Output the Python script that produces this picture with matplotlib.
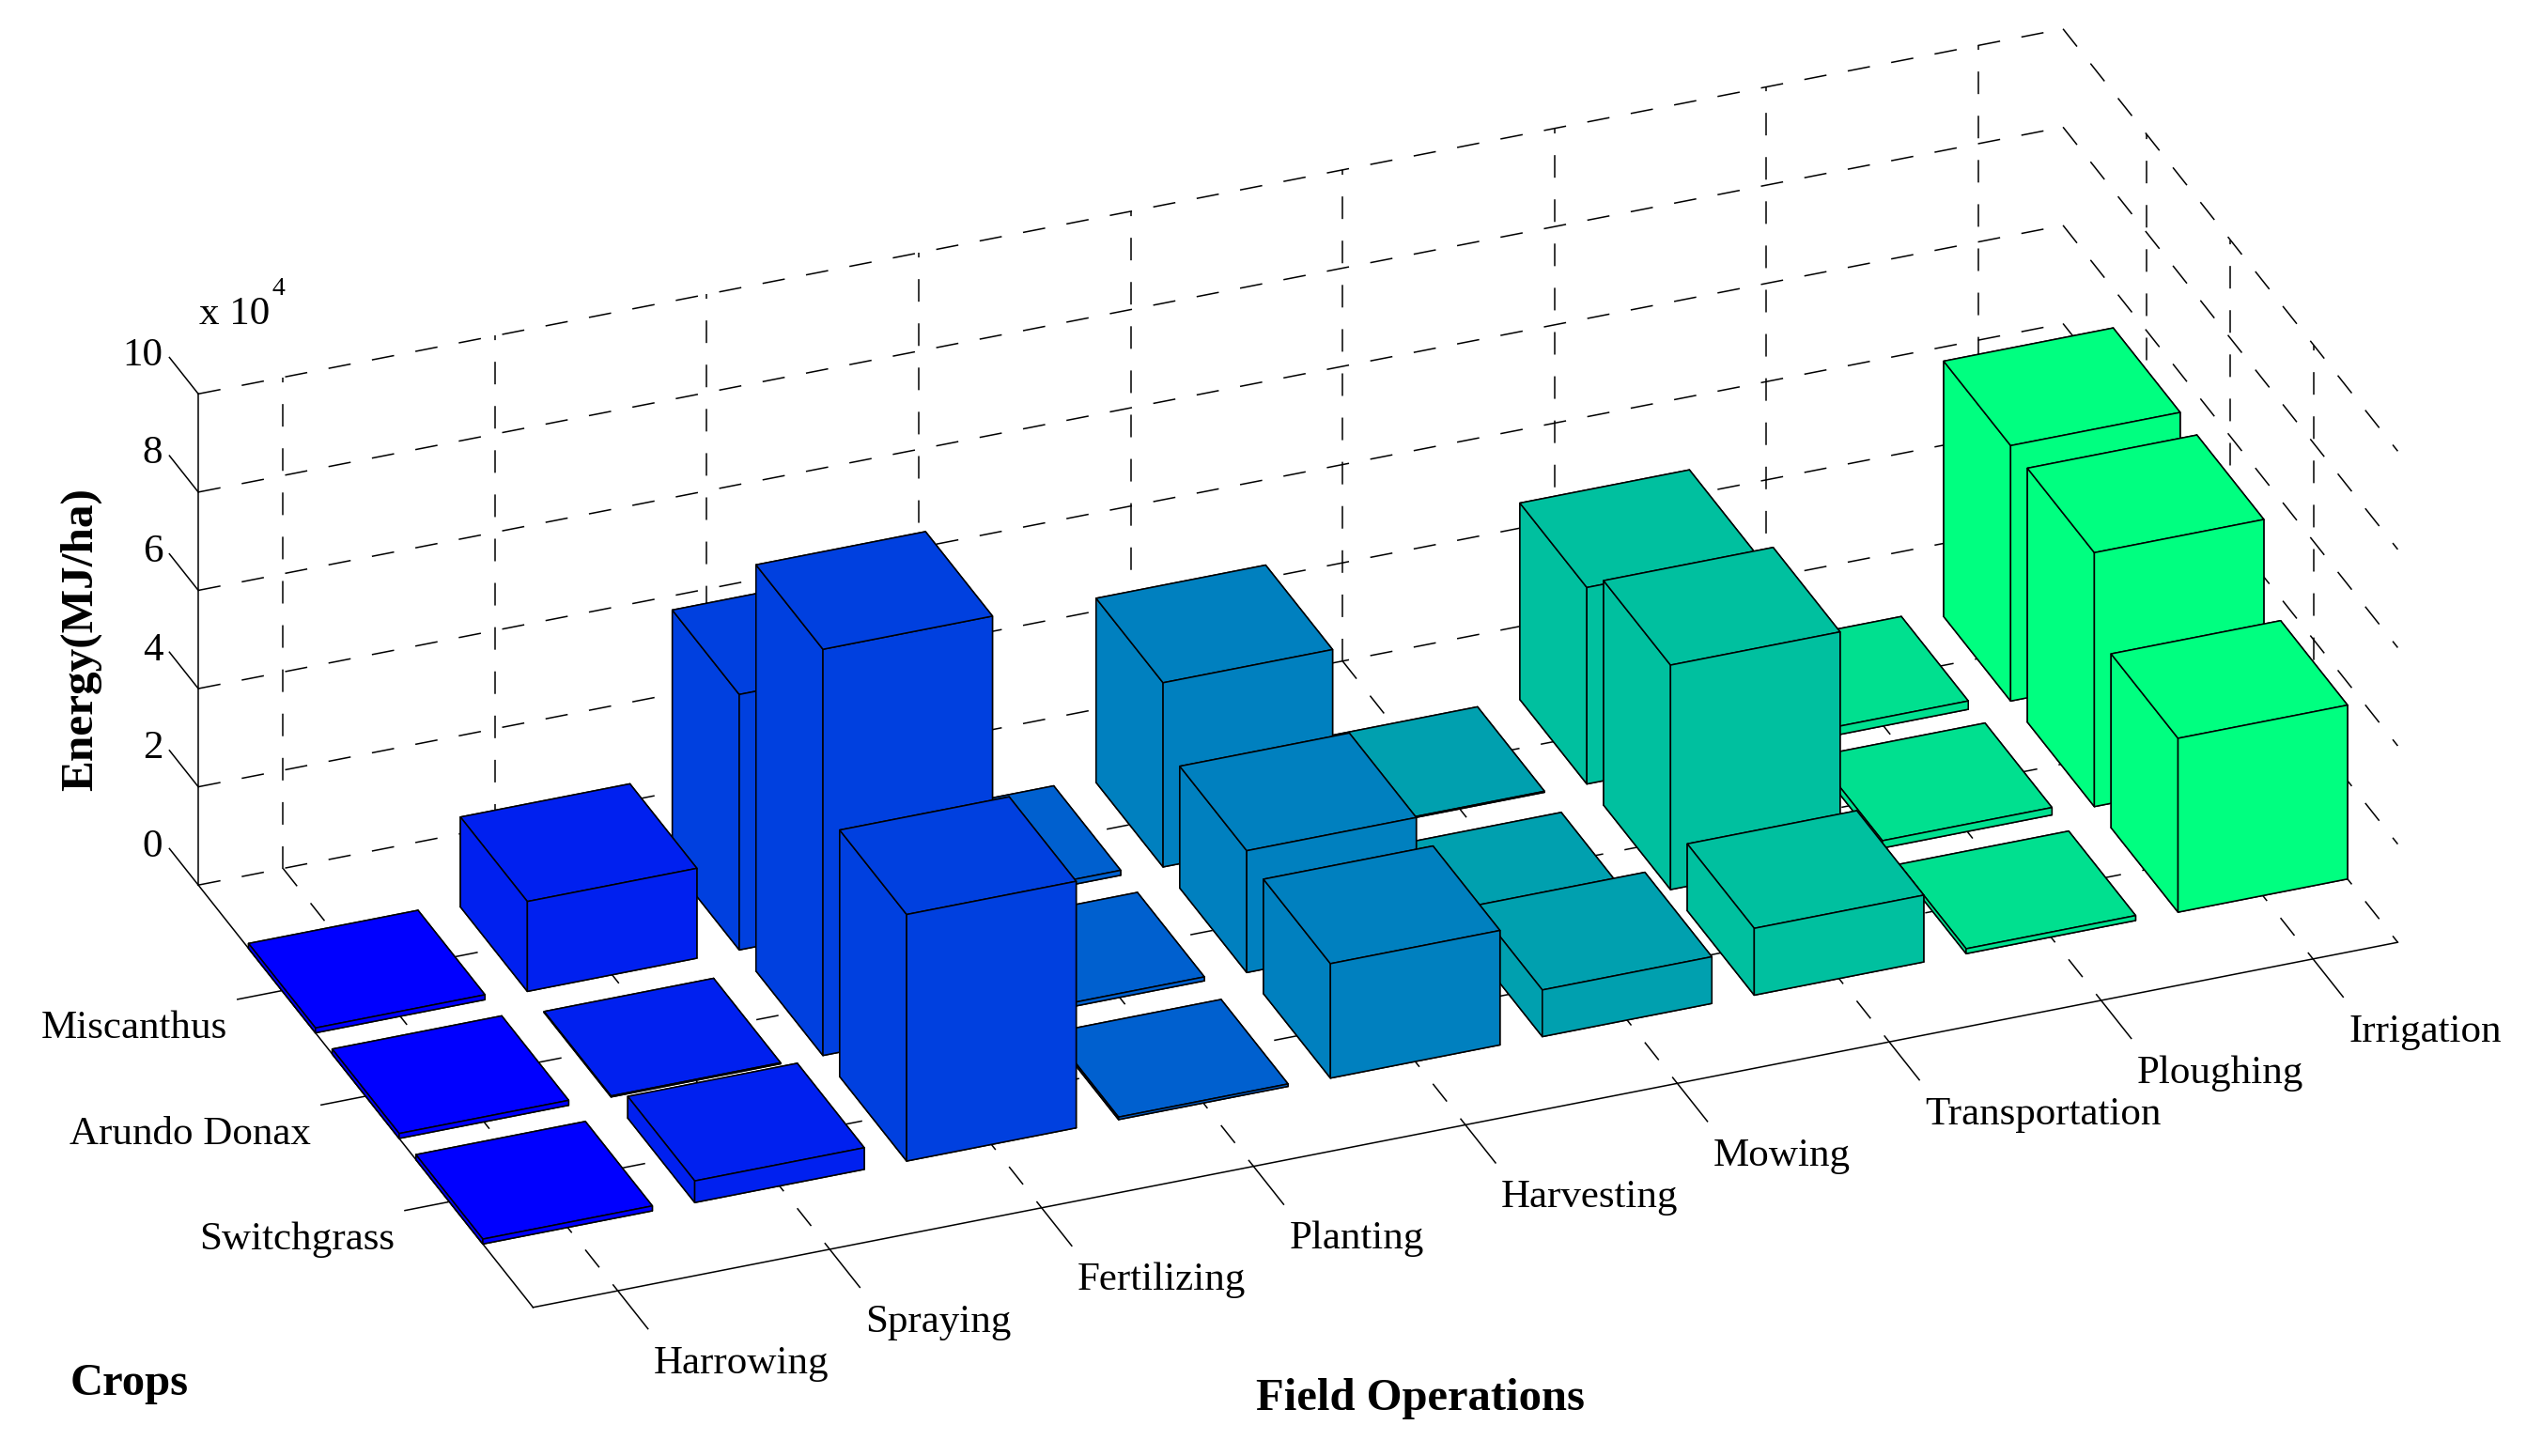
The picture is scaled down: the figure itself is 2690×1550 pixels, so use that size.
import matplotlib
matplotlib.use("Agg")
import matplotlib.pyplot as plt
import numpy as np
from mpl_toolkits.mplot3d import proj3d

plt.rcParams['font.family'] = ['Liberation Serif', 'DejaVu Serif']
plt.rcParams['lines.scale_dashes'] = False

operations = ["Harrowing", "Spraying", "Fertilizing", "Planting", "Harvesting",
              "Mowing", "Transportation", "Ploughing", "Irrigation"]
crops = ["Miscanthus", "Arundo Donax", "Switchgrass"]
z_ticks = [0, 2, 4, 6, 8, 10]

# energy per field operation, MJ/ha
miscanthus = [1000, 18300, 52000, 1000, 37500, 200, 40000, 1700, 52000]
arundo = [1000, 200, 82700, 800, 24800, 200, 45700, 1500, 51700]
switchgrass = [1000, 4400, 50200, 500, 23300, 9500, 13600, 1000, 35400]

W, H = 2690, 1550
X0, X1 = 0.6, 9.4
Y0, Y1 = 0, 4
Z1 = 10

fig = plt.figure(figsize=(W / 100, H / 100), dpi=100)
ax = fig.add_axes([175 / W, -368 / H, 2350 / W, 2350 / H], projection='3d',
                  proj_type='ortho', computed_zorder=False)
ax.view_init(elev=29.8, azim=-111.5)
ax.set_box_aspect((2135, 973, 603))
ax.set_axis_off()

dash = dict(color='black', lw=1.1, dashes=(17.3, 16.6), zorder=1, clip_on=False)
solid = dict(color='black', lw=1.1, zorder=1, clip_on=False)

# grid on the two back walls and the floor
for z in z_ticks:
    ax.plot([X0, X1], [Y0, Y0], [z * 1e4, z * 1e4], **dash)
    ax.plot([X1, X1], [Y0, Y1], [z * 1e4, z * 1e4], **dash)
for i in range(1, len(operations) + 1):
    ax.plot([i, i], [Y0, Y0], [0, Z1 * 1e4], **dash)
    ax.plot([i, i], [Y0, Y1], [0, 0], **dash)
for j in range(1, len(crops) + 1):
    ax.plot([X1, X1], [j, j], [0, Z1 * 1e4], **dash)
    ax.plot([X0, X1], [j, j], [0, 0], **dash)

# box edges
ax.plot([X0, X0], [Y0, Y0], [0, Z1 * 1e4], **solid)
ax.plot([X0, X0], [Y0, Y1], [0, 0], **solid)
ax.plot([X0, X1], [Y1, Y1], [0, 0], **solid)

# bars, painted from the far corner to the near one
heights = [miscanthus, arundo, switchgrass]
order = 2
for i in range(len(operations), 0, -1):
    colour = plt.cm.winter((i - 1) / (len(operations) - 1))
    for j in range(1, len(crops) + 1):
        bar = ax.bar3d(i - 0.4, j - 0.4, 0, 0.8, 0.8, heights[j - 1][i - 1], color=colour,
                       edgecolor='black', linewidth=1.1, shade=False)
        bar.set_zorder(order)
        order += 1

ax.set_xlim(X0, X1)
ax.set_ylim(Y1, Y0)
ax.set_zlim(0, Z1 * 1e4)
ax.set_xticks([])
ax.set_yticks([])
ax.set_zticks([])


def tick_label(x, y, z, name, ha):
    # plain 2D text at the projected spot, so it reports its real position
    px, py, _ = proj3d.proj_transform(x, y, z, ax.get_proj())
    ax.text2D(px, py, name, transform=ax.transData, ha=ha, va='center', fontsize=31, clip_on=False)


# ticks and tick labels
for z in z_ticks:
    ax.plot([X0, X0], [Y0, -0.345], [z * 1e4, z * 1e4], **solid)
    tick_label(X0, -0.425, z * 1e4 - 1350, str(z), 'right')
for i, name in enumerate(operations, start=1):
    ax.plot([i, i], [Y1, Y1 + 0.36], [0, 0], **solid)
    tick_label(i - 0.0885, Y1 + 0.654, 0, name, 'left')
for j, name in enumerate(crops, start=1):
    ax.plot([X0, X0 - 0.21], [j, j], [0, 0], **solid)
    tick_label(X0 - 0.345, j + 0.2235, 0, name, 'right')

ax.set_xlim(X0, X1)
ax.set_ylim(Y1, Y0)
ax.set_zlim(0, Z1 * 1e4)

# axis titles and the exponent
fig.text(212 / W, 1 - 335 / H, "x 10", ha='left', va='center', fontsize=31)
fig.text(290 / W, 1 - 307 / H, "4", ha='left', va='center', fontsize=20)
fig.text(86 / W, 1 - 681 / H, "Energy(MJ/ha)", rotation=90, ha='center', va='center',
         fontsize=35.5, fontweight='bold')
fig.text(75 / W, 1 - 1473 / H, "Crops", ha='left', va='center', fontsize=35, fontweight='bold')
fig.text(1512 / W, 1 - 1489 / H, "Field Operations", ha='center', va='center',
         fontsize=35, fontweight='bold')

fig.savefig("out.png", dpi=100)
